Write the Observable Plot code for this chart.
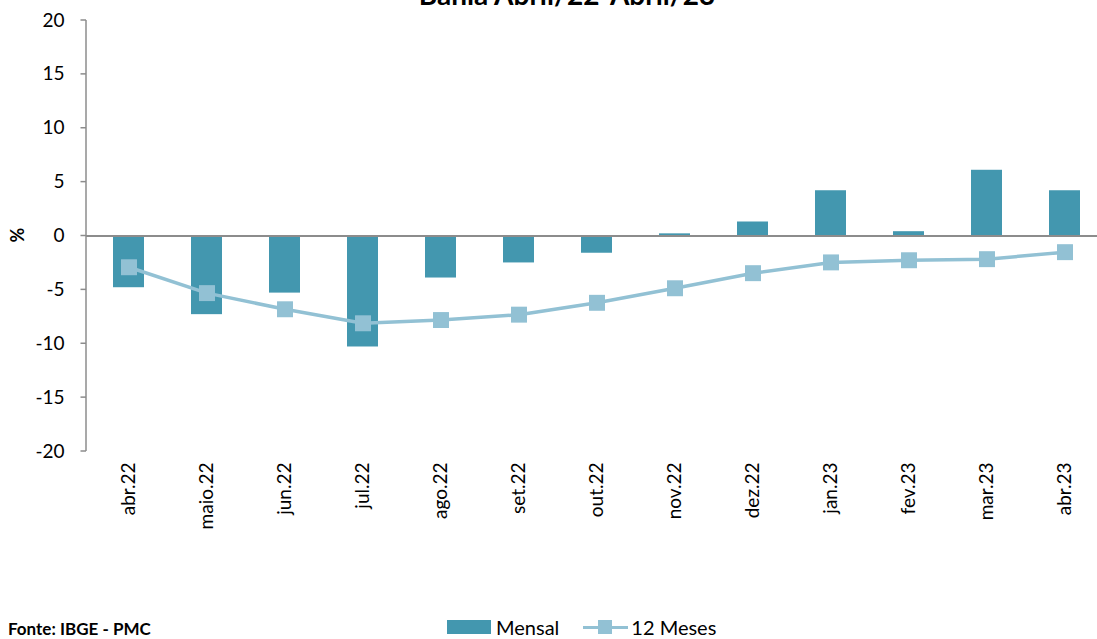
<!DOCTYPE html>
<html>
<head>
<meta charset="utf-8">
<script src="https://cdn.jsdelivr.net/npm/d3@7"></script>
<script src="https://cdn.jsdelivr.net/npm/@observablehq/plot@0.6"></script>
<style>
  html, body { margin: 0; padding: 0; background: #fff; overflow: hidden; }
  #wrap { position: relative; width: 1097px; height: 639px; overflow: hidden; font-family: Lato, "Open Sans", sans-serif; color: #000; }
  #chart { position: absolute; left: 0; top: 0; width: 1108px; }
  #title { position: absolute; left: 0; width: 1134px; text-align: center; top: -23px; font-size: 28px; line-height: 34px; font-weight: bold; white-space: nowrap; }
  #ylab { position: absolute; left: 17px; top: 235px; transform: translate(-50%, -50%) rotate(-90deg); font-size: 18px; font-weight: bold; }
  #fonte { position: absolute; left: 8px; top: 620px; font-size: 17px; font-weight: bold; line-height: 18px; white-space: nowrap; }
  #legend { position: absolute; left: 447px; top: 617px; display: flex; align-items: center; font-size: 20px; line-height: 20px; white-space: nowrap; }
  .sw-bar { width: 44px; height: 14px; background: #4397AF; margin-right: 5px; }
  .sw-line { position: relative; width: 45px; height: 14px; margin-left: 24px; margin-right: 3px; }
  .sw-line .l { position: absolute; left: 0; right: 0; top: 5.5px; height: 3px; background: #92C1D4; }
  .sw-line .s { position: absolute; left: 15px; top: 0; width: 14px; height: 14px; background: #92C1D4; }
</style>
</head>
<body>
<div id="wrap">
  <div id="chart"></div>
  <div id="title">Bahia Abril/22-Abril/23</div>
  <div id="ylab">%</div>
  <div id="fonte">Fonte: IBGE - PMC</div>
  <div id="legend">
    <div class="sw-bar"></div><span>Mensal</span>
    <div class="sw-line"><div class="l"></div><div class="s"></div></div><span>12 Meses</span>
  </div>
</div>
<script>
const months = ["abr.22","maio.22","jun.22","jul.22","ago.22","set.22","out.22","nov.22","dez.22","jan.23","fev.23","mar.23","abr.23"];
const mensal = [-4.8, -7.3, -5.3, -10.3, -3.9, -2.5, -1.6, 0.2, 1.3, 4.2, 0.4, 6.1, 4.2];
const dozeMeses = [-2.9, -5.3, -6.8, -8.1, -7.8, -7.3, -6.2, -4.85, -3.45, -2.45, -2.25, -2.15, -1.5];
const yTicks = [-20, -15, -10, -5, 0, 5, 10, 15, 20];

const data = months.map((m, i) => ({month: m, mensal: mensal[i], doze: dozeMeses[i]}));

const barColor = "#4397AF";
const lineColor = "#92C1D4";
const axisGray = "#8C8C8C";

// custom y axis line and tick marks in gray, computed from the y scale
function yAxisLine(index, scales, values, dimensions) {
  const g = d3.create("svg:g");
  const x0 = dimensions.marginLeft;
  const [lo, hi] = [scales.y(-20), scales.y(20)];
  g.append("line").attr("x1", x0).attr("x2", x0).attr("y1", lo).attr("y2", hi)
    .attr("stroke", axisGray).attr("stroke-width", 1.5);
  for (const t of yTicks) {
    g.append("line").attr("x1", x0 - 5.5).attr("x2", x0).attr("y1", scales.y(t)).attr("y2", scales.y(t))
      .attr("stroke", axisGray).attr("stroke-width", 1.5);
  }
  return g.node();
}

const chart = Plot.plot({
  width: 1108,
  height: 560,
  marginLeft: 86,
  marginRight: 0,
  marginTop: 20,
  marginBottom: 109,
  style: {fontFamily: "Lato, 'Open Sans', sans-serif", fontSize: "19px", color: "#000", background: "transparent", overflow: "visible", maxWidth: "none"},
  x: {type: "band", domain: months, paddingInner: 0.6, paddingOuter: 0.3, tickSize: 0, tickPadding: 11, tickRotate: -90, label: null},
  y: {domain: [-20, 20], ticks: yTicks, tickSize: 0, tickPadding: 22, label: null, tickFormat: d => String(d).replace("−", "-")},
  marks: [
    Plot.barY(data, {x: "month", y: "mensal", fill: barColor}),
    Plot.ruleY([0], {stroke: axisGray, strokeWidth: 2}),
    yAxisLine,
    Plot.line(data, {x: "month", y: "doze", stroke: lineColor, strokeWidth: 3.5}),
    Plot.dot(data, {x: "month", y: "doze", symbol: "square", r: 9, fill: lineColor, stroke: "none"})
  ]
});
chart.style.maxWidth = "none";
chart.style.width = "1108px";
chart.style.height = "560px";
document.getElementById("chart").appendChild(chart);
</script>
</body>
</html>
